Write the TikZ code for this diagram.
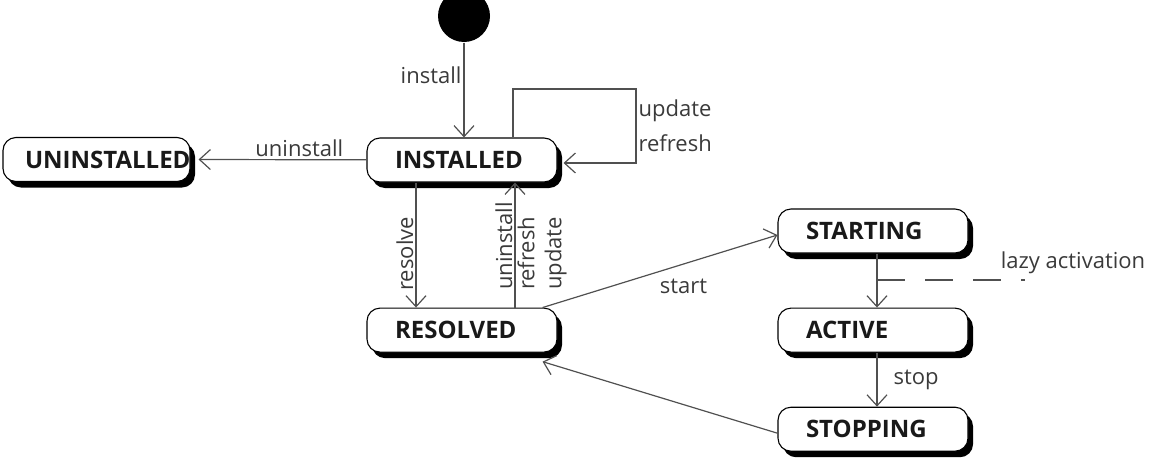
\documentclass[tikz,border=0pt]{standalone}
\usepackage{fontspec}
\setmainfont{Open Sans}
\usepackage{tikz}
\usetikzlibrary{arrows.meta,positioning,shadows}
\definecolor{lncolor}{HTML}{505050}
\definecolor{txtcolor}{HTML}{3A3A3A}

\begin{document}
\begin{tikzpicture}[x=1pt, y=-1pt, >={Straight Barb[length=11pt,width=20pt]}, line width=1.2pt, draw=lncolor, inner sep=2pt,
  statebox/.style={draw=black, line width=1.1pt, fill=white, rounded corners=13pt, minimum height=44pt, text width=134pt, inner xsep=28pt, inner ysep=0pt, align=left, font=\fontsize{24}{28}\selectfont\bfseries, text=black!90, drop shadow={shadow xshift=5pt, shadow yshift=-6pt, fill=black, opacity=1}}]

\useasboundingbox (0,0) rectangle (1150,469);

\node[circle, fill=black, minimum size=52pt, inner sep=0pt] (init) at (464,16) {};
\node[statebox] (installed) at (462,160) {INSTALLED};
\node[statebox, inner xsep=22pt, text width=143pt] (uninstalled) at (96.5,159.5) {UNINSTALLED};
\node[statebox] (resolved) [below=125pt of installed] {RESOLVED};
\node[statebox] (starting) at (873,231) {STARTING};
\node[statebox] (active) [below=54pt of starting] {ACTIVE};
\node[statebox] (stopping) [below=54pt of active] {STOPPING};

\coordinate (loopa) at (513,89);
\coordinate (loopb) at (636,163);
\coordinate (lzend) at (1025,279);

\tikzstyle{every node}=[font=\fontsize{22}{27}\selectfont, text=txtcolor]
\draw[->] (init) -- (installed.north -| init) node[pos=0.34, left] {install};
\draw[->] (installed.north -| loopa) -- (loopa) -| (loopb) node[pos=0.75, right, align=left, font=\fontsize{22}{35}\selectfont] {update\\refresh} -- ([xshift=6pt]installed.east |- loopb);
\draw[->] (installed) -- ([xshift=8pt]uninstalled.east) node[pos=0.4, above] {uninstall};

\draw[->] ([xshift=-46pt]installed.south) -- ([xshift=-46pt]installed.south |- resolved.north) node[pos=0.57, rotate=90, anchor=south] {resolve};
\draw[->] ([xshift=53pt]resolved.north) -- ([xshift=53pt]resolved.north |- installed.south)
  node[pos=0.12, rotate=90, anchor=south west] {uninstall}
  node[pos=0.12, rotate=90, anchor=north west, align=left] {refresh\\update};

\draw[->] ([xshift=-15pt]resolved.north east) -- ([yshift=-4pt]starting.west) node[pos=0.6, below=12pt] {start};
\draw[->] ([xshift=4pt]starting.south) -- ([xshift=4pt]active.north) coordinate[pos=0.49] (lzstart);
\draw[dash pattern=on 28pt off 20pt] (lzstart) -- (lzstart -| lzend);
\node (lzlabel) at (1073,263) {lazy activation};
\draw[->] ([xshift=4pt]active.south) -- ([xshift=4pt]stopping.north) node[midway, right=14pt] {stop};
\draw[->] ([yshift=-4pt]stopping.west) -- ([xshift=-15pt,yshift=-9pt]resolved.south east);
\end{tikzpicture}
\end{document}
